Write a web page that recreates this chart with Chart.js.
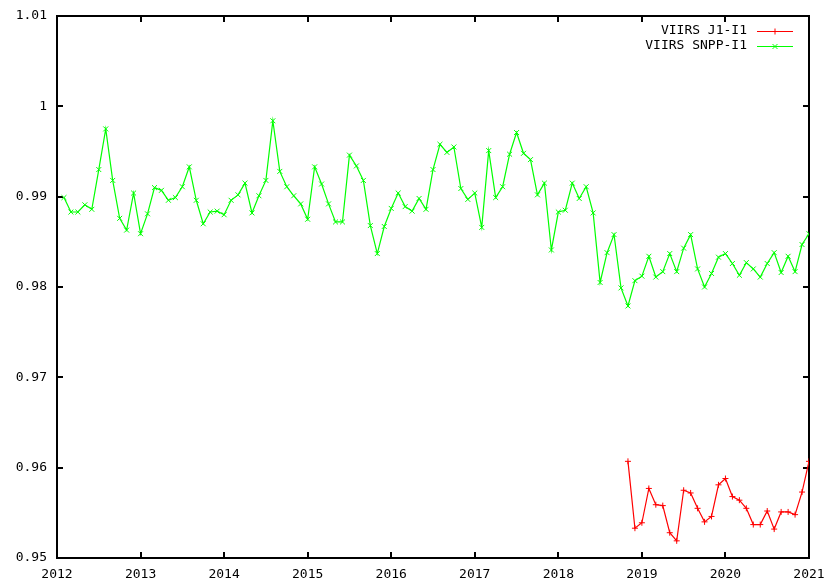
<!DOCTYPE html>
<html><head><meta charset="utf-8">
<script src="https://cdn.jsdelivr.net/npm/chart.js@4.4.1/dist/chart.umd.min.js"></script>
<style>html,body{margin:0;padding:0;background:#fff}canvas{display:block}</style>
</head><body>
<canvas id="c" width="829" height="582"></canvas>
<script>
// ---- data ----
const seriesNames = ['VIIRS J1-I1', 'VIIRS SNPP-I1'];
const seriesColors = ['#ff0000', '#00ff00'];
const seriesMarkers = ['cross', 'crossRot'];

// monthly series: first month [year, month]
const snppStart = [2012, 2];
const snppValues = [
  0.9899, 0.9883, 0.9883, 0.9891, 0.9886, 0.9930, 0.9975, 0.9918, 0.9876, 0.9863, 0.9904,
  0.9859, 0.9881, 0.9910, 0.9907, 0.9896, 0.9899, 0.9911, 0.9933, 0.9896, 0.9870, 0.9883,
  0.9884, 0.9880, 0.9896, 0.9902, 0.9915, 0.9882, 0.9901, 0.9918, 0.9984, 0.9928, 0.9911,
  0.9901, 0.9892, 0.9875, 0.9933, 0.9914, 0.9892, 0.9872, 0.9872, 0.9946, 0.9934, 0.9918,
  0.9868, 0.9837, 0.9867, 0.9887, 0.9904, 0.9889, 0.9884, 0.9898, 0.9886, 0.9930, 0.9958,
  0.9949, 0.9955, 0.9909, 0.9897, 0.9904, 0.9866, 0.9951, 0.9899, 0.9911, 0.9947, 0.9971,
  0.9948, 0.9941, 0.9902, 0.9915, 0.9841, 0.9883, 0.9885, 0.9915, 0.9898, 0.9911, 0.9882,
  0.9805, 0.9838, 0.9858, 0.9799, 0.9779, 0.9807, 0.9812, 0.9834, 0.9811, 0.9817, 0.9837,
  0.9817, 0.9843, 0.9858, 0.9820, 0.9800, 0.9815, 0.9833, 0.9837, 0.9826, 0.9813, 0.9827,
  0.9820, 0.9811, 0.9826, 0.9838, 0.9816, 0.9834, 0.9817, 0.9847, 0.9859
];
const j1Start = [2018, 11];
const j1Values = [
  0.9607, 0.9533, 0.9539, 0.9577, 0.9559, 0.9558, 0.9528, 0.9519, 0.9575, 0.9572, 0.9555,
  0.9540, 0.9546, 0.9581, 0.9588, 0.9568, 0.9564, 0.9555, 0.9537, 0.9537, 0.9552, 0.9532,
  0.9551, 0.9551, 0.9548, 0.9573, 0.9607
];
const xTicks = [2012, 2013, 2014, 2015, 2016, 2017, 2018, 2019, 2020, 2021];
const yTicks = [0.95, 0.96, 0.97, 0.98, 0.99, 1.00, 1.01];

// month index -> decimal year (category position)
function monthPositions(start, n) {
  const out = [];
  for (let i = 0; i < n; i++) {
    const m = (start[1] - 1) + i;
    out.push(start[0] + Math.floor(m / 12) + (m % 12) / 12);
  }
  return out;
}
function toPoints(start, vals) {
  const xs = monthPositions(start, vals.length);
  return vals.map((v, i) => ({x: xs[i], y: v}));
}

const FONT = 'DejaVu Sans Mono';

const framePlugin = {
  id: 'gnuframe',
  beforeDatasetsDraw(chart) {
    const {ctx, chartArea: a, scales: {x, y}} = chart;
    ctx.save();
    ctx.strokeStyle = '#000';
    ctx.lineWidth = 2;
    ctx.strokeRect(a.left, a.top, a.right - a.left, a.bottom - a.top);
    const L = 6;
    ctx.beginPath();
    xTicks.forEach(v => {
      const px = Math.round(x.getPixelForValue(v));
      ctx.moveTo(px, a.bottom); ctx.lineTo(px, a.bottom - L);
      ctx.moveTo(px, a.top); ctx.lineTo(px, a.top + L);
    });
    yTicks.forEach(v => {
      const py = Math.round(y.getPixelForValue(v));
      ctx.moveTo(a.left, py); ctx.lineTo(a.left + L, py);
      ctx.moveTo(a.right, py); ctx.lineTo(a.right - L, py);
    });
    ctx.stroke();
    ctx.restore();
  },
  afterDatasetsDraw(chart) {
    const {ctx} = chart;
    ctx.save();
    ctx.font = '13px "' + FONT + '"';
    ctx.textAlign = 'right';
    ctx.textBaseline = 'middle';
    chart.data.datasets.forEach((ds, i) => {
      const yy = 31 + 15 * i;
      ctx.fillStyle = '#000';
      ctx.fillText(ds.label, 747, yy);
      ctx.strokeStyle = ds.borderColor;
      ctx.lineWidth = 1;
      ctx.beginPath();
      ctx.moveTo(757, yy + 0.5); ctx.lineTo(793, yy + 0.5);
      ctx.stroke();
      Chart.helpers.drawPoint(ctx, {pointStyle: ds.pointStyle, radius: ds.pointRadius, rotation: 0, borderWidth: 1}, 775, yy + 0.5);
    });
    ctx.restore();
  }
};

const makeDs = (i, pts) => ({
  label: seriesNames[i],
  data: pts,
  borderColor: seriesColors[i],
  backgroundColor: seriesColors[i],
  borderWidth: 1.2,
  pointStyle: seriesMarkers[i],
  pointRadius: i === 0 ? 3 : 3.5,
  pointBorderWidth: 1,
  pointBorderColor: seriesColors[i],
  tension: 0,
  fill: false
});

new Chart(document.getElementById('c'), {
  type: 'line',
  data: {
    datasets: [
      makeDs(0, toPoints(j1Start, j1Values)),
      makeDs(1, toPoints(snppStart, snppValues))
    ]
  },
  options: {
    responsive: false,
    animation: false,
    devicePixelRatio: 1,
    layout: {padding: {left: 0, right: 20, top: 16, bottom: 0}},
    plugins: {legend: {display: false}, tooltip: {enabled: false}},
    scales: {
      x: {
        type: 'linear', min: 2012, max: 2021,
        afterBuildTicks: s => { s.ticks = xTicks.map(v => ({value: v})); },
        afterFit: s => { s.height = 24; s.paddingLeft = 0; s.paddingRight = 0; },
        grid: {display: false, drawTicks: false},
        border: {display: false},
        ticks: {
          padding: 9, color: '#000', maxRotation: 0, autoSkip: false,
          font: {family: FONT, size: 13},
          callback: v => String(v)
        }
      },
      y: {
        type: 'linear', min: 0.95, max: 1.01,
        afterBuildTicks: s => { s.ticks = yTicks.map(v => ({value: v})); },
        afterFit: s => { s.width = 57; s.paddingTop = 0; s.paddingBottom = 0; },
        grid: {display: false, drawTicks: false},
        border: {display: false},
        ticks: {
          padding: 10, color: '#000', autoSkip: false,
          font: {family: FONT, size: 13},
          callback: v => String(Number(Number(v).toFixed(2)))
        }
      }
    }
  },
  plugins: [framePlugin]
});
</script>
</body></html>
